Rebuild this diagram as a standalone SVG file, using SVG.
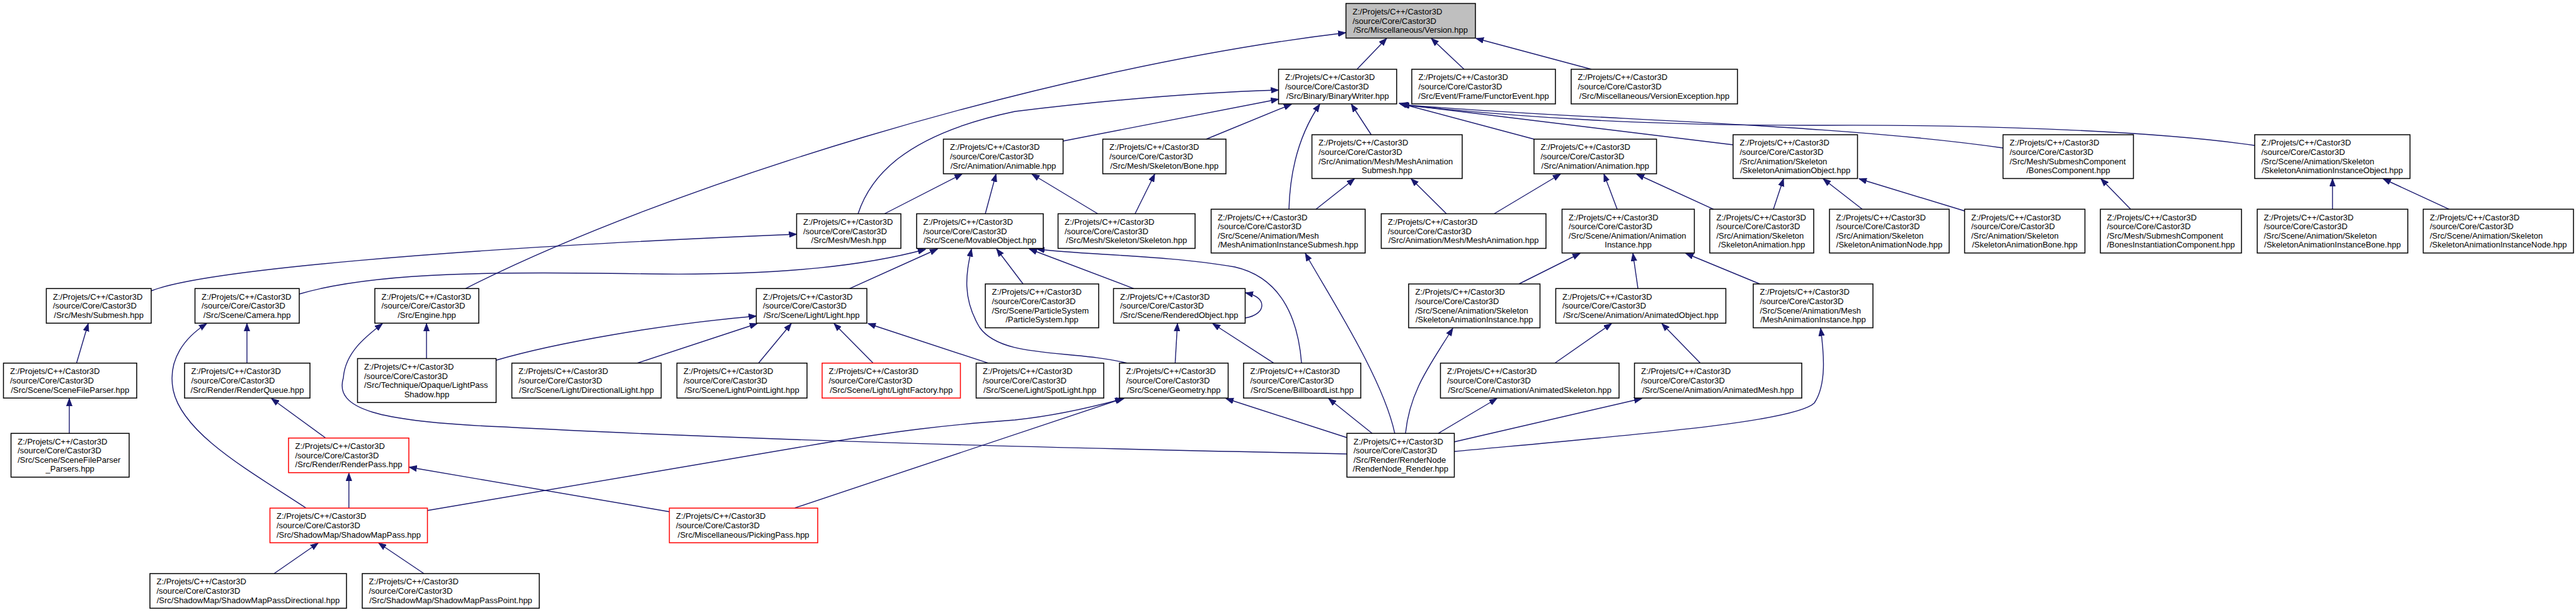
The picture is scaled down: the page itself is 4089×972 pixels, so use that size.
<svg xmlns="http://www.w3.org/2000/svg" width="4089" height="972" viewBox="0 0 4089 972">
<style>
.node rect{fill:#ffffff;stroke:#000000;stroke-width:1.5}
.node.red rect{stroke:#ff0000}
.node.root rect{fill:#bfbfbf}
.node text{font-family:"Liberation Sans",Arial,sans-serif;font-size:13px;fill:#000000}
.node text.c{text-anchor:middle}
.edges path{fill:none;stroke:#191970;stroke-width:1.4}
</style>
<defs>
<marker id="arr" markerWidth="13" markerHeight="10" refX="12" refY="5" orient="auto" markerUnits="userSpaceOnUse" viewBox="0 0 13 10"><path d="M0,0.5 L12,5 L0,9.5 z" fill="#191970" stroke="#191970" stroke-width="1"/></marker>
</defs>
<rect width="4089" height="972" fill="#ffffff"/>
<g class="edges" marker-end="url(#arr)">
<path d="M2154,110 L2201,61" marker-end="url(#arr)"/>
<path d="M2324,110 L2272,61" marker-end="url(#arr)"/>
<path d="M2526,110 L2343,61" marker-end="url(#arr)"/>
<path d="M739,458.3 C1050,300 1650,110 2136,52" marker-end="url(#arr)"/>
<path d="M1362,339.5 C1380,285 1430,215 1611,177 C1750,160 1900,147 2029.5,143" marker-end="url(#arr)"/>
<path d="M1687.5,224 L2029.5,157.5" marker-end="url(#arr)"/>
<path d="M1914.7,221 L2050,165.5" marker-end="url(#arr)"/>
<path d="M2046,332.3 C2048,260 2068,205 2095,165.5" marker-end="url(#arr)"/>
<path d="M2176.6,214 L2145,165.5" marker-end="url(#arr)"/>
<path d="M2435,221 L2221,164" marker-end="url(#arr)"/>
<path d="M2751,230 L2223,165.5" marker-end="url(#arr)"/>
<path d="M3179.5,235 C2900,195 2500,190 2224,166" marker-end="url(#arr)"/>
<path d="M3579,231 C3400,205 3100,198 2900,199 C2600,200 2400,185 2225,166.5" marker-end="url(#arr)"/>
<path d="M1404,339.5 L1527,276.5" marker-end="url(#arr)"/>
<path d="M1564,339.5 L1581,276.5" marker-end="url(#arr)"/>
<path d="M1742.6,339.5 L1638,276.5" marker-end="url(#arr)"/>
<path d="M1801.7,339.5 L1833,276.5" marker-end="url(#arr)"/>
<path d="M2089,332.3 L2150,284" marker-end="url(#arr)"/>
<path d="M2296,339.5 L2240,284" marker-end="url(#arr)"/>
<path d="M2371.7,339.5 L2477,276.5" marker-end="url(#arr)"/>
<path d="M2567,332.3 L2546,276.5" marker-end="url(#arr)"/>
<path d="M2720,332.3 L2598,276.5" marker-end="url(#arr)"/>
<path d="M2815,332.3 L2831,284" marker-end="url(#arr)"/>
<path d="M2956,332.3 L2894,284" marker-end="url(#arr)"/>
<path d="M3118.5,335 L2951,284" marker-end="url(#arr)"/>
<path d="M3382,332.3 L3335,284" marker-end="url(#arr)"/>
<path d="M3702.5,332.3 L3702.5,284" marker-end="url(#arr)"/>
<path d="M3887.7,332.3 L3783,284" marker-end="url(#arr)"/>
<path d="M240,462 C320,430 700,395 1264.5,372" marker-end="url(#arr)"/>
<path d="M475,467 C600,430 800,432 1030,435 C1250,438 1380,420 1469,396" marker-end="url(#arr)"/>
<path d="M1348.5,458.3 L1488,395.5" marker-end="url(#arr)"/>
<path d="M1789,576.7 C1700,555 1590,570 1555,520 C1525,470 1535,430 1542,395.5" marker-end="url(#arr)"/>
<path d="M1624,451 L1582,395.5" marker-end="url(#arr)"/>
<path d="M1799.7,458.3 L1634,395.5" marker-end="url(#arr)"/>
<path d="M2066,576.7 C2060,500 2030,440 1960,424 C1850,405 1720,405 1646,395.5" marker-end="url(#arr)"/>
<path d="M2411,451 L2508,402.5" marker-end="url(#arr)"/>
<path d="M2600,458.3 L2592,402.5" marker-end="url(#arr)"/>
<path d="M2793.5,451 L2676,402.5" marker-end="url(#arr)"/>
<path d="M121.5,576.7 L140,514" marker-end="url(#arr)"/>
<path d="M392,576.7 L392,514" marker-end="url(#arr)"/>
<path d="M486,807 C400,750 290,690 275,620 C265,570 295,535 328,514" marker-end="url(#arr)"/>
<path d="M677,569.5 L677,514" marker-end="url(#arr)"/>
<path d="M2138,721 C1700,712 1200,700 800,678 C600,670 530,650 545,600 C548,560 580,535 607,514" marker-end="url(#arr)"/>
<path d="M788,572 C880,545 1050,515 1200.5,502" marker-end="url(#arr)"/>
<path d="M1011.6,576.7 L1202,514" marker-end="url(#arr)"/>
<path d="M1204,576.7 L1256,514" marker-end="url(#arr)"/>
<path d="M1386,576.7 L1324,514" marker-end="url(#arr)"/>
<path d="M1568.5,576.7 L1378,514" marker-end="url(#arr)"/>
<path d="M1865.4,576.7 L1869,514" marker-end="url(#arr)"/>
<path d="M2021.8,576.7 L1925,514" marker-end="url(#arr)"/>
<path d="M1976.5,505 C1995,502 2003,493 2003,485 C2003,476 1995,469 1977,465" marker-end="url(#arr)"/>
<path d="M2468,576.7 L2558,514" marker-end="url(#arr)"/>
<path d="M2699,576.7 L2638,514" marker-end="url(#arr)"/>
<path d="M110,688.3 L110,633" marker-end="url(#arr)"/>
<path d="M517,695.7 L431,633" marker-end="url(#arr)"/>
<path d="M553.8,807 L553.8,751.5" marker-end="url(#arr)"/>
<path d="M1062.5,812.7 L649.5,742" marker-end="url(#arr)"/>
<path d="M678.6,810.7 L1300,705 C1420,685 1500,675 1611,667 C1680,660 1740,645 1784,633" marker-end="url(#arr)"/>
<path d="M1261.7,806.7 L1782,633" marker-end="url(#arr)"/>
<path d="M2138,695 L1946,633" marker-end="url(#arr)"/>
<path d="M2178,688.3 L2109,633" marker-end="url(#arr)"/>
<path d="M2214,688.3 C2195,600 2110,470 2072,402.5" marker-end="url(#arr)"/>
<path d="M2231,688.3 C2238,620 2270,580 2306,521.5" marker-end="url(#arr)"/>
<path d="M2283,688.3 L2376,633" marker-end="url(#arr)"/>
<path d="M2308.5,701.7 L2606,633" marker-end="url(#arr)"/>
<path d="M2308.5,717 C2600,690 2850,670 2880,640 C2900,610 2895,560 2890,521.5" marker-end="url(#arr)"/>
<path d="M435,911 L505,862.5" marker-end="url(#arr)"/>
<path d="M673,911 L601,862.5" marker-end="url(#arr)"/>
</g>

<g id="version" class="node root"><rect x="2136.5" y="5.5" width="205.5" height="55"/><text x="2147" y="22.9">Z:/Projets/C++/Castor3D</text><text x="2147" y="37.5">/source/Core/Castor3D</text><text class="c" x="2239.2" y="52.1">/Src/Miscellaneous/Version.hpp</text></g>

<g id="binarywriter" class="node"><rect x="2029.5" y="110" width="187.5" height="55"/><text x="2040" y="127.4">Z:/Projets/C++/Castor3D</text><text x="2040" y="142">/source/Core/Castor3D</text><text class="c" x="2123.2" y="156.6">/Src/Binary/BinaryWriter.hpp</text></g>
<g id="functorevent" class="node"><rect x="2241" y="110" width="228" height="55"/><text x="2251.5" y="127.4">Z:/Projets/C++/Castor3D</text><text x="2251.5" y="142">/source/Core/Castor3D</text><text class="c" x="2355" y="156.6">/Src/Event/Frame/FunctorEvent.hpp</text></g>
<g id="versionexception" class="node"><rect x="2494" y="110" width="264" height="55"/><text x="2504.5" y="127.4">Z:/Projets/C++/Castor3D</text><text x="2504.5" y="142">/source/Core/Castor3D</text><text class="c" x="2626" y="156.6">/Src/Miscellaneous/VersionException.hpp</text></g>

<g id="animable" class="node"><rect x="1497.5" y="221" width="190" height="55"/><text x="1508" y="238.4">Z:/Projets/C++/Castor3D</text><text x="1508" y="253">/source/Core/Castor3D</text><text class="c" x="1592.5" y="267.6">/Src/Animation/Animable.hpp</text></g>
<g id="bone" class="node"><rect x="1750.5" y="221" width="195.5" height="55"/><text x="1761" y="238.4">Z:/Projets/C++/Castor3D</text><text x="1761" y="253">/source/Core/Castor3D</text><text class="c" x="1848.2" y="267.6">/Src/Mesh/Skeleton/Bone.hpp</text></g>
<g id="animation" class="node"><rect x="2435" y="221" width="194.5" height="55"/><text x="2445.5" y="238.4">Z:/Projets/C++/Castor3D</text><text x="2445.5" y="253">/source/Core/Castor3D</text><text class="c" x="2532.2" y="267.6">/Src/Animation/Animation.hpp</text></g>
<g id="meshanimationsubmesh" class="node"><rect x="2082.5" y="214" width="238.5" height="69.5"/><text x="2093" y="231.4">Z:/Projets/C++/Castor3D</text><text x="2093" y="246">/source/Core/Castor3D</text><text x="2093" y="260.6">/Src/Animation/Mesh/MeshAnimation</text><text class="c" x="2201.7" y="275.2">Submesh.hpp</text></g>
<g id="skeletonanimationobject" class="node"><rect x="2751" y="214" width="197.5" height="69.5"/><text x="2761.5" y="231.4">Z:/Projets/C++/Castor3D</text><text x="2761.5" y="246">/source/Core/Castor3D</text><text x="2761.5" y="260.6">/Src/Animation/Skeleton</text><text class="c" x="2849.7" y="275.2">/SkeletonAnimationObject.hpp</text></g>
<g id="bonescomponent" class="node"><rect x="3179.5" y="214" width="207" height="69.5"/><text x="3190" y="231.4">Z:/Projets/C++/Castor3D</text><text x="3190" y="246">/source/Core/Castor3D</text><text x="3190" y="260.6">/Src/Mesh/SubmeshComponent</text><text class="c" x="3283" y="275.2">/BonesComponent.hpp</text></g>
<g id="skeletonanimationinstanceobject" class="node"><rect x="3579" y="214" width="246.5" height="69.5"/><text x="3589.5" y="231.4">Z:/Projets/C++/Castor3D</text><text x="3589.5" y="246">/source/Core/Castor3D</text><text x="3589.5" y="260.6">/Src/Scene/Animation/Skeleton</text><text class="c" x="3702.2" y="275.2">/SkeletonAnimationInstanceObject.hpp</text></g>

<g id="mesh" class="node"><rect x="1264.5" y="339.5" width="165.5" height="55"/><text x="1275" y="356.9">Z:/Projets/C++/Castor3D</text><text x="1275" y="371.5">/source/Core/Castor3D</text><text class="c" x="1347.2" y="386.1">/Src/Mesh/Mesh.hpp</text></g>
<g id="movableobject" class="node"><rect x="1455" y="339.5" width="201" height="55"/><text x="1465.5" y="356.9">Z:/Projets/C++/Castor3D</text><text x="1465.5" y="371.5">/source/Core/Castor3D</text><text class="c" x="1555.5" y="386.1">/Src/Scene/MovableObject.hpp</text></g>
<g id="skeleton" class="node"><rect x="1679.5" y="339.5" width="217.5" height="55"/><text x="1690" y="356.9">Z:/Projets/C++/Castor3D</text><text x="1690" y="371.5">/source/Core/Castor3D</text><text class="c" x="1788.2" y="386.1">/Src/Mesh/Skeleton/Skeleton.hpp</text></g>
<g id="meshanimation" class="node"><rect x="2192.5" y="339.5" width="261.5" height="55"/><text x="2203" y="356.9">Z:/Projets/C++/Castor3D</text><text x="2203" y="371.5">/source/Core/Castor3D</text><text class="c" x="2323.2" y="386.1">/Src/Animation/Mesh/MeshAnimation.hpp</text></g>
<g id="meshanimationinstancesubmesh" class="node"><rect x="1922.5" y="332.3" width="244.5" height="69.5"/><text x="1933" y="349.6">Z:/Projets/C++/Castor3D</text><text x="1933" y="364.2">/source/Core/Castor3D</text><text x="1933" y="378.8">/Src/Scene/Animation/Mesh</text><text class="c" x="2044.7" y="393.4">/MeshAnimationInstanceSubmesh.hpp</text></g>
<g id="animationinstance" class="node"><rect x="2479.5" y="332.3" width="210" height="69.5"/><text x="2490" y="349.6">Z:/Projets/C++/Castor3D</text><text x="2490" y="364.2">/source/Core/Castor3D</text><text x="2490" y="378.8">/Src/Scene/Animation/Animation</text><text class="c" x="2584.5" y="393.4">Instance.hpp</text></g>
<g id="skeletonanimation" class="node"><rect x="2714" y="332.3" width="165" height="69.5"/><text x="2724.5" y="349.6">Z:/Projets/C++/Castor3D</text><text x="2724.5" y="364.2">/source/Core/Castor3D</text><text x="2724.5" y="378.8">/Src/Animation/Skeleton</text><text class="c" x="2796.5" y="393.4">/SkeletonAnimation.hpp</text></g>
<g id="skeletonanimationnode" class="node"><rect x="2904" y="332.3" width="190" height="69.5"/><text x="2914.5" y="349.6">Z:/Projets/C++/Castor3D</text><text x="2914.5" y="364.2">/source/Core/Castor3D</text><text x="2914.5" y="378.8">/Src/Animation/Skeleton</text><text class="c" x="2999" y="393.4">/SkeletonAnimationNode.hpp</text></g>
<g id="skeletonanimationbone" class="node"><rect x="3118.5" y="332.3" width="191" height="69.5"/><text x="3129" y="349.6">Z:/Projets/C++/Castor3D</text><text x="3129" y="364.2">/source/Core/Castor3D</text><text x="3129" y="378.8">/Src/Animation/Skeleton</text><text class="c" x="3214" y="393.4">/SkeletonAnimationBone.hpp</text></g>
<g id="bonesinstantiationcomponent" class="node"><rect x="3334" y="332.3" width="224" height="69.5"/><text x="3344.5" y="349.6">Z:/Projets/C++/Castor3D</text><text x="3344.5" y="364.2">/source/Core/Castor3D</text><text x="3344.5" y="378.8">/Src/Mesh/SubmeshComponent</text><text class="c" x="3446" y="393.4">/BonesInstantiationComponent.hpp</text></g>
<g id="skeletonanimationinstancebone" class="node"><rect x="3583" y="332.3" width="239" height="69.5"/><text x="3593.5" y="349.6">Z:/Projets/C++/Castor3D</text><text x="3593.5" y="364.2">/source/Core/Castor3D</text><text x="3593.5" y="378.8">/Src/Scene/Animation/Skeleton</text><text class="c" x="3702.5" y="393.4">/SkeletonAnimationInstanceBone.hpp</text></g>
<g id="skeletonanimationinstancenode" class="node"><rect x="3846.5" y="332.3" width="238.5" height="69.5"/><text x="3857" y="349.6">Z:/Projets/C++/Castor3D</text><text x="3857" y="364.2">/source/Core/Castor3D</text><text x="3857" y="378.8">/Src/Scene/Animation/Skeleton</text><text class="c" x="3965.7" y="393.4">/SkeletonAnimationInstanceNode.hpp</text></g>

<g id="submesh" class="node"><rect x="73.5" y="458.3" width="166.5" height="55"/><text x="84" y="475.7">Z:/Projets/C++/Castor3D</text><text x="84" y="490.3">/source/Core/Castor3D</text><text class="c" x="156.7" y="504.9">/Src/Mesh/Submesh.hpp</text></g>
<g id="camera" class="node"><rect x="309.5" y="458.3" width="165.5" height="55"/><text x="320" y="475.7">Z:/Projets/C++/Castor3D</text><text x="320" y="490.3">/source/Core/Castor3D</text><text class="c" x="392.2" y="504.9">/Src/Scene/Camera.hpp</text></g>
<g id="engine" class="node"><rect x="595" y="458.3" width="165" height="55"/><text x="605.5" y="475.7">Z:/Projets/C++/Castor3D</text><text x="605.5" y="490.3">/source/Core/Castor3D</text><text class="c" x="677.5" y="504.9">/Src/Engine.hpp</text></g>
<g id="light" class="node"><rect x="1200.5" y="458.3" width="175.5" height="55"/><text x="1211" y="475.7">Z:/Projets/C++/Castor3D</text><text x="1211" y="490.3">/source/Core/Castor3D</text><text class="c" x="1288.2" y="504.9">/Src/Scene/Light/Light.hpp</text></g>
<g id="renderedobject" class="node"><rect x="1767.5" y="458.3" width="209" height="55"/><text x="1778" y="475.7">Z:/Projets/C++/Castor3D</text><text x="1778" y="490.3">/source/Core/Castor3D</text><text class="c" x="1872" y="504.9">/Src/Scene/RenderedObject.hpp</text></g>
<g id="animatedobject" class="node"><rect x="2469.5" y="458.3" width="270" height="55"/><text x="2480" y="475.7">Z:/Projets/C++/Castor3D</text><text x="2480" y="490.3">/source/Core/Castor3D</text><text class="c" x="2604.5" y="504.9">/Src/Scene/Animation/AnimatedObject.hpp</text></g>
<g id="particlesystem" class="node"><rect x="1564" y="451" width="180" height="69.6"/><text x="1574.5" y="468.4">Z:/Projets/C++/Castor3D</text><text x="1574.5" y="483">/source/Core/Castor3D</text><text x="1574.5" y="497.6">/Src/Scene/ParticleSystem</text><text class="c" x="1654" y="512.2">/ParticleSystem.hpp</text></g>
<g id="skeletonanimationinstance" class="node"><rect x="2236" y="451" width="208.5" height="69.6"/><text x="2246.5" y="468.4">Z:/Projets/C++/Castor3D</text><text x="2246.5" y="483">/source/Core/Castor3D</text><text x="2246.5" y="497.6">/Src/Scene/Animation/Skeleton</text><text class="c" x="2340.2" y="512.2">/SkeletonAnimationInstance.hpp</text></g>
<g id="meshanimationinstance" class="node"><rect x="2783" y="451" width="190" height="69.6"/><text x="2793.5" y="468.4">Z:/Projets/C++/Castor3D</text><text x="2793.5" y="483">/source/Core/Castor3D</text><text x="2793.5" y="497.6">/Src/Scene/Animation/Mesh</text><text class="c" x="2878" y="512.2">/MeshAnimationInstance.hpp</text></g>

<g id="scenefileparser" class="node"><rect x="5.5" y="576.7" width="211.5" height="55.5"/><text x="16" y="594.4">Z:/Projets/C++/Castor3D</text><text x="16" y="609">/source/Core/Castor3D</text><text class="c" x="111.2" y="623.6">/Src/Scene/SceneFileParser.hpp</text></g>
<g id="renderqueue" class="node"><rect x="293" y="576.7" width="199" height="55.5"/><text x="303.5" y="594.4">Z:/Projets/C++/Castor3D</text><text x="303.5" y="609">/source/Core/Castor3D</text><text class="c" x="392.5" y="623.6">/Src/Render/RenderQueue.hpp</text></g>
<g id="lightpassshadow" class="node"><rect x="567.5" y="569.5" width="220" height="69.8"/><text x="578" y="587">Z:/Projets/C++/Castor3D</text><text x="578" y="601.6">/source/Core/Castor3D</text><text x="578" y="616.2">/Src/Technique/Opaque/LightPass</text><text class="c" x="677.5" y="630.8">Shadow.hpp</text></g>
<g id="directionallight" class="node"><rect x="812.5" y="576.7" width="237" height="55.5"/><text x="823" y="594.4">Z:/Projets/C++/Castor3D</text><text x="823" y="609">/source/Core/Castor3D</text><text class="c" x="931" y="623.6">/Src/Scene/Light/DirectionalLight.hpp</text></g>
<g id="pointlight" class="node"><rect x="1074.5" y="576.7" width="206.5" height="55.5"/><text x="1085" y="594.4">Z:/Projets/C++/Castor3D</text><text x="1085" y="609">/source/Core/Castor3D</text><text class="c" x="1177.7" y="623.6">/Src/Scene/Light/PointLight.hpp</text></g>
<g id="lightfactory" class="node red"><rect x="1305" y="576.7" width="219.5" height="55.5"/><text x="1315.5" y="594.4">Z:/Projets/C++/Castor3D</text><text x="1315.5" y="609">/source/Core/Castor3D</text><text class="c" x="1414.7" y="623.6">/Src/Scene/Light/LightFactory.hpp</text></g>
<g id="spotlight" class="node"><rect x="1549.5" y="576.7" width="202.5" height="55.5"/><text x="1560" y="594.4">Z:/Projets/C++/Castor3D</text><text x="1560" y="609">/source/Core/Castor3D</text><text class="c" x="1650.7" y="623.6">/Src/Scene/Light/SpotLight.hpp</text></g>
<g id="geometry" class="node"><rect x="1777" y="576.7" width="172.5" height="55.5"/><text x="1787.5" y="594.4">Z:/Projets/C++/Castor3D</text><text x="1787.5" y="609">/source/Core/Castor3D</text><text class="c" x="1863.2" y="623.6">/Src/Scene/Geometry.hpp</text></g>
<g id="billboardlist" class="node"><rect x="1974" y="576.7" width="186" height="55.5"/><text x="1984.5" y="594.4">Z:/Projets/C++/Castor3D</text><text x="1984.5" y="609">/source/Core/Castor3D</text><text class="c" x="2067" y="623.6">/Src/Scene/BillboardList.hpp</text></g>
<g id="animatedskeleton" class="node"><rect x="2286.5" y="576.7" width="283.5" height="55.5"/><text x="2297" y="594.4">Z:/Projets/C++/Castor3D</text><text x="2297" y="609">/source/Core/Castor3D</text><text class="c" x="2428.2" y="623.6">/Src/Scene/Animation/AnimatedSkeleton.hpp</text></g>
<g id="animatedmesh" class="node"><rect x="2594.5" y="576.7" width="265.5" height="55.5"/><text x="2605" y="594.4">Z:/Projets/C++/Castor3D</text><text x="2605" y="609">/source/Core/Castor3D</text><text class="c" x="2727.2" y="623.6">/Src/Scene/Animation/AnimatedMesh.hpp</text></g>

<g id="scenefileparser_parsers" class="node"><rect x="17.5" y="688.3" width="187.5" height="69.5"/><text x="28" y="705.6">Z:/Projets/C++/Castor3D</text><text x="28" y="720.2">/source/Core/Castor3D</text><text x="28" y="734.8">/Src/Scene/SceneFileParser</text><text class="c" x="111.2" y="749.4">_Parsers.hpp</text></g>
<g id="rendernode_render" class="node"><rect x="2138" y="688.3" width="170.5" height="69.5"/><text x="2148.5" y="705.6">Z:/Projets/C++/Castor3D</text><text x="2148.5" y="720.2">/source/Core/Castor3D</text><text x="2148.5" y="734.8">/Src/Render/RenderNode</text><text class="c" x="2223.2" y="749.4">/RenderNode_Render.hpp</text></g>
<g id="renderpass" class="node red"><rect x="458" y="695.7" width="191" height="55"/><text x="468.5" y="713.1">Z:/Projets/C++/Castor3D</text><text x="468.5" y="727.7">/source/Core/Castor3D</text><text class="c" x="553.5" y="742.3">/Src/Render/RenderPass.hpp</text></g>

<g id="shadowmappass" class="node red"><rect x="428.5" y="807" width="250" height="55"/><text x="439" y="824.4">Z:/Projets/C++/Castor3D</text><text x="439" y="839">/source/Core/Castor3D</text><text class="c" x="553.5" y="853.6">/Src/ShadowMap/ShadowMapPass.hpp</text></g>
<g id="pickingpass" class="node red"><rect x="1062.5" y="807" width="235.5" height="55"/><text x="1073" y="824.4">Z:/Projets/C++/Castor3D</text><text x="1073" y="839">/source/Core/Castor3D</text><text class="c" x="1180.2" y="853.6">/Src/Miscellaneous/PickingPass.hpp</text></g>

<g id="shadowmappassdirectional" class="node"><rect x="238" y="911" width="312" height="55"/><text x="248.5" y="928.4">Z:/Projets/C++/Castor3D</text><text x="248.5" y="943">/source/Core/Castor3D</text><text class="c" x="394" y="957.6">/Src/ShadowMap/ShadowMapPassDirectional.hpp</text></g>
<g id="shadowmappasspoint" class="node"><rect x="575" y="911" width="281" height="55"/><text x="585.5" y="928.4">Z:/Projets/C++/Castor3D</text><text x="585.5" y="943">/source/Core/Castor3D</text><text class="c" x="715.5" y="957.6">/Src/ShadowMap/ShadowMapPassPoint.hpp</text></g>
</svg>
